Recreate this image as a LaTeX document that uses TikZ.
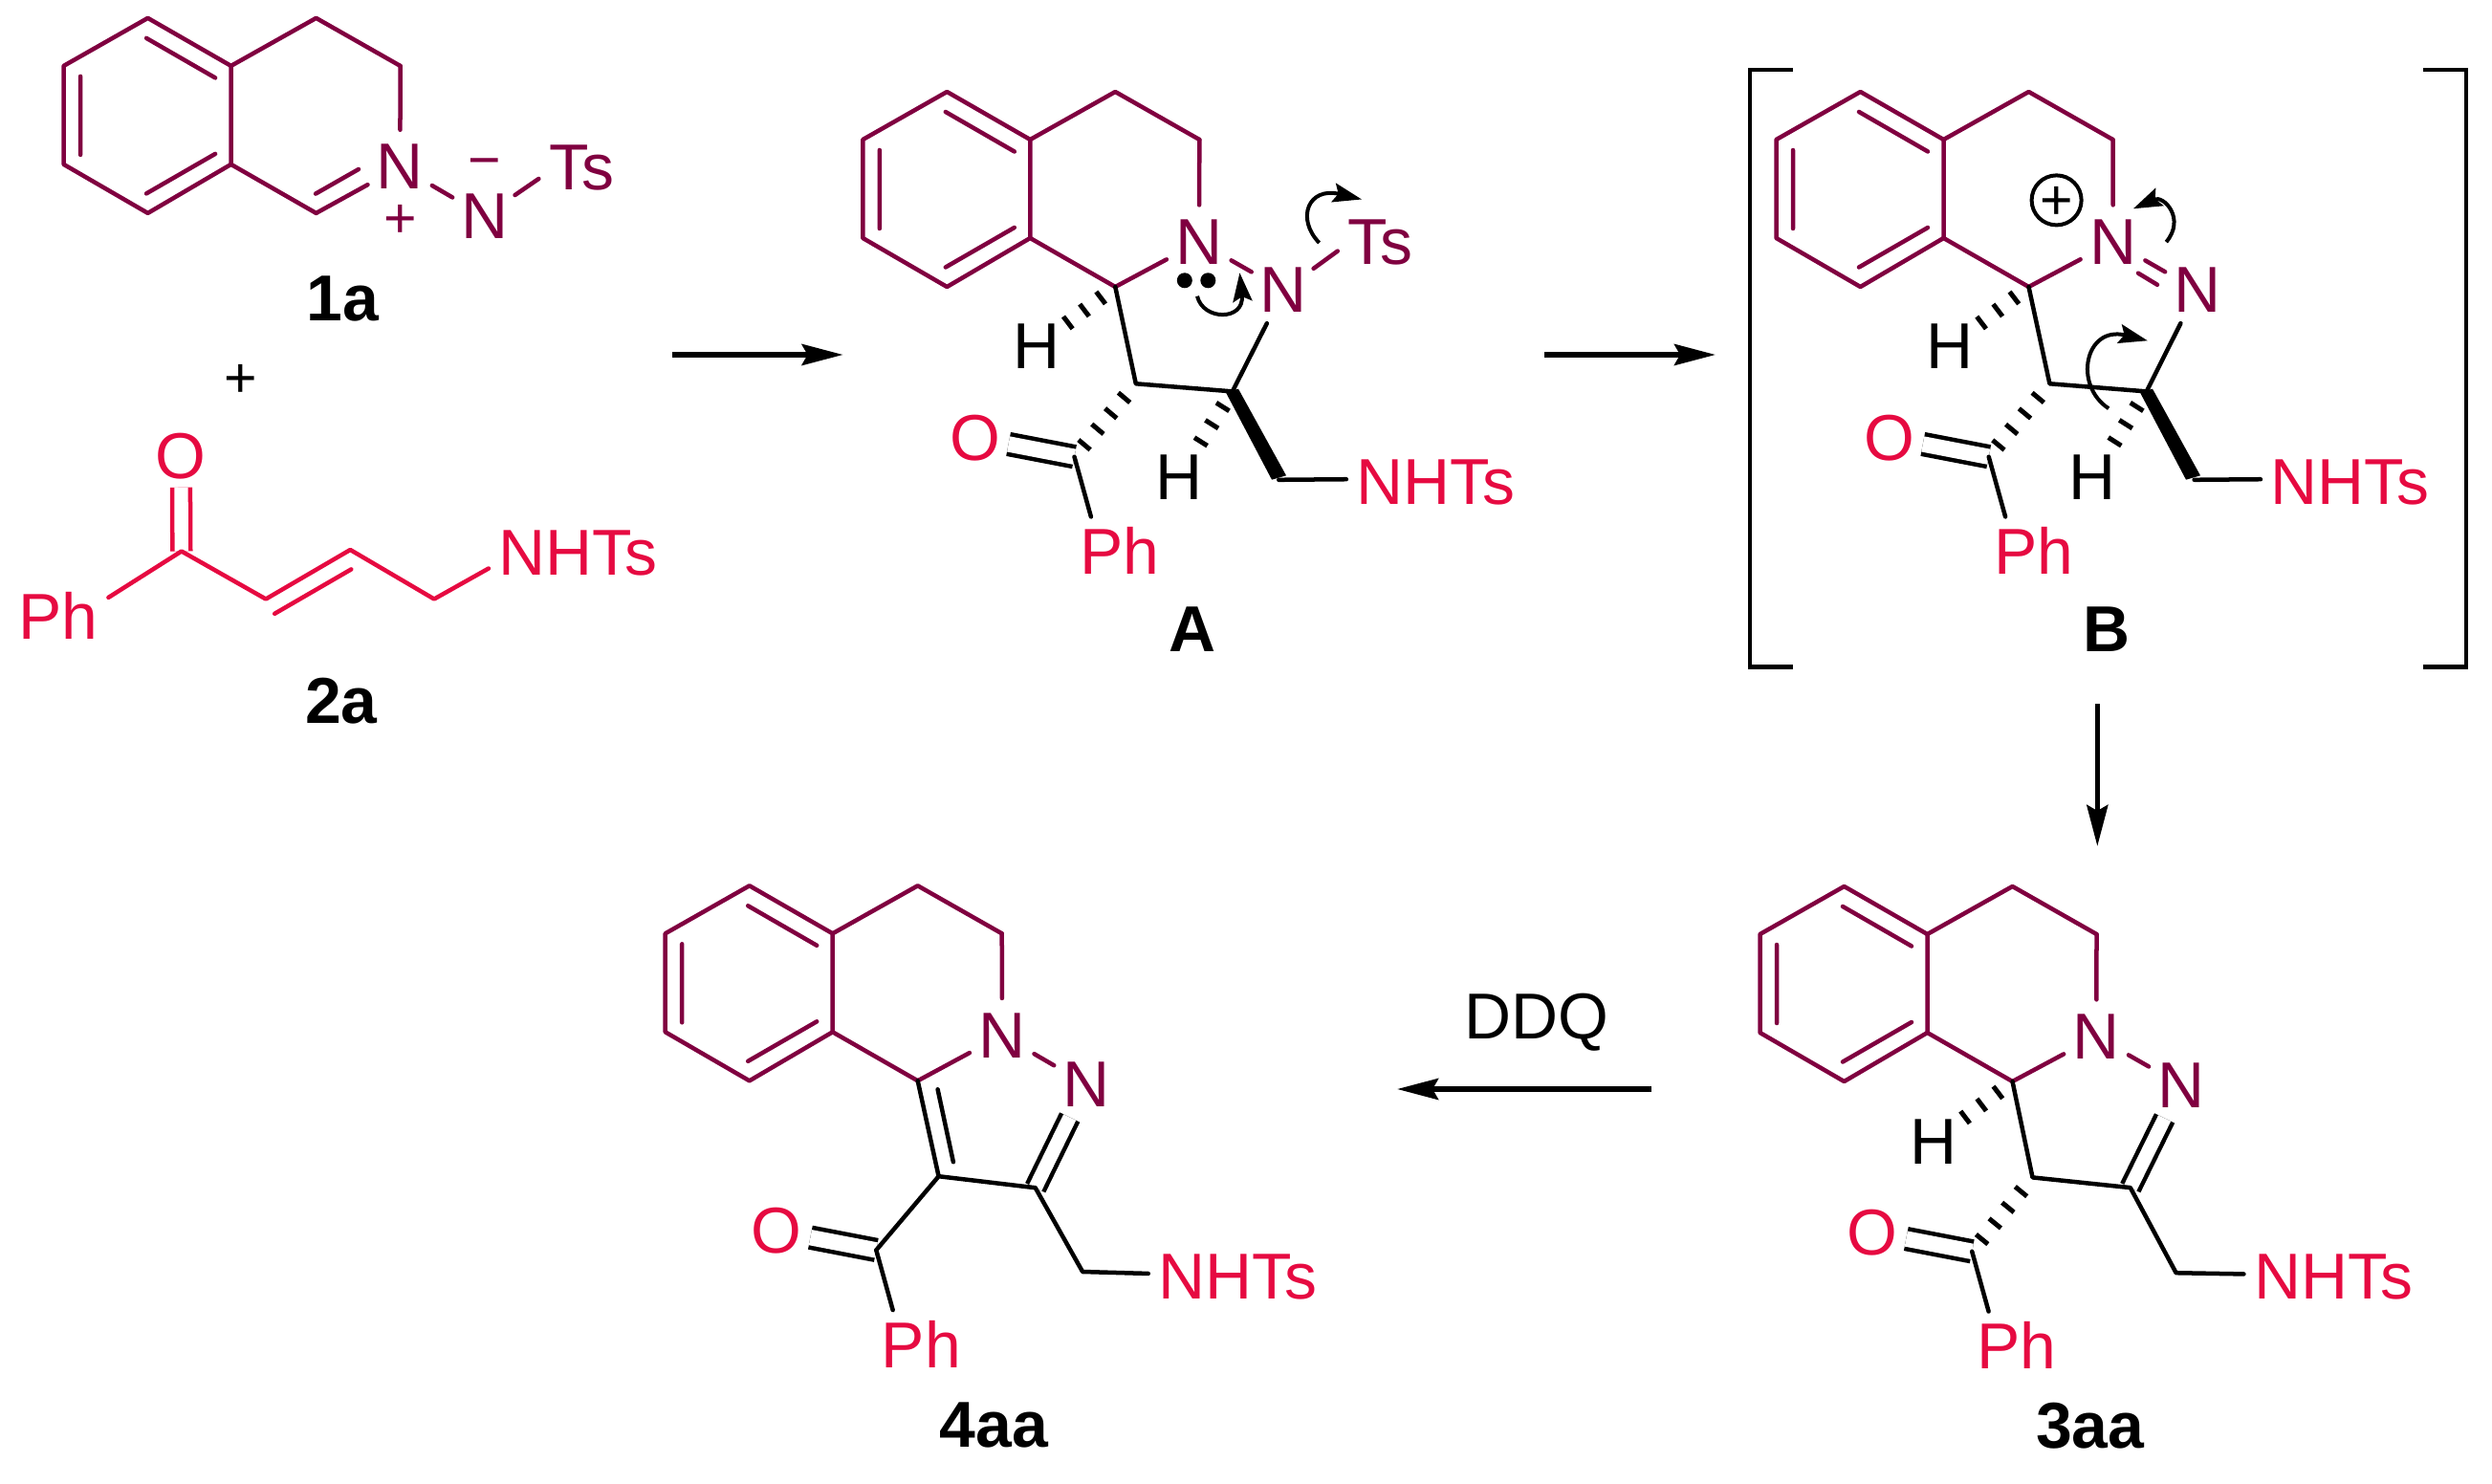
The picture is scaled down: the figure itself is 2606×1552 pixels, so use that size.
\documentclass[tikz,border=0pt]{standalone}
\usepackage{fontspec}
\setmainfont{Liberation Sans}
\usetikzlibrary{arrows.meta}

\definecolor{ringcol}{RGB}{128,0,64}
\definecolor{chaincol}{RGB}{230,10,65}

\tikzset{
    ringbond/.style={draw=ringcol, line width=0.045cm, line cap=round, line join=round},
    blackbond/.style={draw=black, line width=0.045cm, line cap=round, line join=round},
    redbond/.style={draw=chaincol, line width=0.045cm, line cap=round, line join=round},
    twoline/.style={line cap=butt, double=white, double distance=#1},
    hashbond/.style={draw=black, line width=0.16cm, dash pattern=on 0pt off 0.165cm on 0.05cm off 0pt},
    lab/.style={inner sep=0.1cm, font=\fontsize{19.3}{22}\selectfont},
    hatom/.style={lab, inner sep=0.04cm},
    natom/.style={circle, minimum size=0.76cm, inner sep=0pt, text=ringcol, font=\fontsize{19.3}{22}\selectfont},
    redlab/.style={lab, text=chaincol},
    ringlab/.style={lab, text=ringcol},
    oatom/.style={lab, inner sep=0.08cm, text=chaincol},
    name label/.style={inner sep=0pt, font=\fontsize{19.3}{22}\selectfont\bfseries},
    charge/.style={inner sep=0pt, font=\fontsize{16.8}{18}\selectfont},
    rxn/.style={-{Stealth[length=0.43cm, width=0.22cm, inset=0.06cm]}, line width=0.055cm},
    curly/.style={-{Stealth[length=0.3cm, width=0.2cm, inset=0.05cm]}, line width=0.04cm},
}

% the dihydroisoquinoline part of every molecule
\newcommand{\ringsys}[3]{
    \begin{scope}[shift={(#2,#3)}, name prefix=#1]
        \coordinate (c1) at (0,0);
        \coordinate (c2) at (87,50);
        \coordinate (c3) at (87,153);
        \coordinate (c4) at (0,204);
        \coordinate (c5) at (-88,153);
        \coordinate (c6) at (-88,50);
        \coordinate (c7) at (176,0);
        \coordinate (c8) at (264,50);
        \coordinate (c10) at (176,204);
        \coordinate (i1) at (-1.5,21);
        \coordinate (i2) at (70.5,62.5);
        \coordinate (i3) at (-70.5,61);
        \coordinate (i4) at (-70.5,143);
        \coordinate (i5) at (-1.5,183.5);
        \coordinate (i6) at (70.5,142);
        \draw[ringbond] (c6) -- (c1) -- (c2) -- (c3) -- (c4) -- (c5) -- cycle;
        \draw[ringbond] (c2) -- (c7) -- (c8)
            (c3) -- (c10)
            (i1) -- (i2)
            (i3) -- (i4)
            (i5) -- (i6);
    \end{scope}
}

% C(=O)Ph, the first argument is the name prefix
\newcommand{\benzoyl}[3]{
    \begin{scope}[shift={(#2,#3)}, name prefix=#1]
        \coordinate (Cq) at (0,0);
        \node[oatom] (O) at (-104,-20) {O};
        \node[redlab] (Ph) at (47,98) {Ph};
        \draw[blackbond, twoline=0.164cm] (O) -- (Cq);
        \draw[blackbond] (Cq) -- (Ph.130);
    \end{scope}
}

\begin{document}
\begin{tikzpicture}[x=0.01cm, y=-0.01cm]
    \useasboundingbox (0,0) rectangle (2606,1552);

    % 1a
    \ringsys{one}{154.6}{18.9}
    \node[natom] (oneN) at (418.4,174.5) {N};
    \node[natom] (oneN2) at (506.6,226) {N};
    \node[ringlab] (oneTs) at (608,175) {Ts};
    \node[charge, text=ringcol] (onePlus) at (418.4,231) {+};
    \node[charge, text=ringcol] (oneMinus) at (506.6,176.5) {−};
    \node[name label] (oneName) at (358.7,312.8) {1a};
    \coordinate (oneD1) at (330.1,202.6);
    \coordinate (oneD2) at (375,177);
    \draw[ringbond] (onec8) -- (oneN)
        (onec10) -- (oneN)
        (oneD1) -- (oneD2)
        (oneN) -- (oneN2)
        (oneN2) -- (oneTs.195);

    \node[charge] (plusSign) at (251.5,398) {+};

    % 2a
    \node[oatom] (twoO) at (189.3,477) {O};
    \node[redlab] (twoPh) at (61.2,643.9) {Ph};
    \node[redlab] (twoNHTs) at (604.6,578) {NHTs};
    \node[name label] (twoName) at (357,732.7) {2a};
    \coordinate (twoC1) at (189.8,576.5);
    \coordinate (twoC2) at (278,626.5);
    \coordinate (twoC3) at (366.3,575);
    \coordinate (twoC4) at (454,626.5);
    \coordinate (twoD1) at (287.2,641.8);
    \coordinate (twoD2) at (367.3,595.4);
    \draw[redbond, twoline=0.144cm] (twoO) -- (twoC1);
    \draw[redbond] (twoPh.20) -- (twoC1) -- (twoC2) -- (twoC3) -- (twoC4) -- (twoNHTs.190)
        (twoD1) -- (twoD2);

    % A
    \ringsys{A}{990.3}{96}
    \benzoyl{A}{1123.5}{477.7}
    \node[natom] (AN) at (1254,253.1) {N};
    \node[natom] (AN2) at (1342.3,303.6) {N};
    \node[ringlab] (ATs) at (1443.4,253.1) {Ts};
    \node[redlab] (ANHTs) at (1501.5,504.5) {NHTs};
    \node[hatom] (AH1) at (1083.7,362.5) {H};
    \node[hatom] (AH2) at (1232.7,498.7) {H};
    \node[name label] (AName) at (1247,658.5) {A};
    \coordinate (AC11) at (1187.8,401.3);
    \coordinate (AC12) at (1288.8,409.4);
    \coordinate (ACH2) at (1337.2,501.8);
    \coordinate (AW1) at (1330,501.7);
    \coordinate (AW2) at (1345,497.3);
    \coordinate (AW3) at (1295,406.7);
    \coordinate (AW4) at (1281.7,410);
    \draw[ringbond] (Ac8) -- (AN)
        (Ac10) -- (AN)
        (AN) -- (AN2)
        (AN2) -- (ATs.192);
    \draw[blackbond] (Ac10) -- (AC11) -- (AC12) -- (AN2)
        (ACH2) -- (ANHTs.178);
    \fill (AW1) -- (AW2) -- (AW3) -- (AW4) -- cycle;
    \draw[hashbond] (Ac10) -- (AH1);
    \draw[hashbond] (AC11) -- (ACq);
    \draw[hashbond] (AC12) -- (AH2);
    \node[circle, fill, inner sep=0pt, minimum size=0.16cm] (ALp1) at (1238.8,293.3) {};
    \node[circle, fill, inner sep=0pt, minimum size=0.16cm] (ALp2) at (1263.3,293.3) {};
    \coordinate (AS1) at (1379.6,254);
    \coordinate (AE1) at (1424,208.5);
    \coordinate (AS2) at (1252,309.8);
    \coordinate (AE2) at (1296.4,285.3);
    \draw[curly] (AS1) .. controls (1355.1,228.6) and (1367.9,195.1) .. (AE1);
    \draw[curly] (AS2) .. controls (1258.2,335.7) and (1301.5,335.7) .. (AE2);

    % B
    \ringsys{B}{1945.5}{96}
    \benzoyl{B}{2079.7}{477.7}
    \node[natom] (BN) at (2209.8,253.1) {N};
    \node[natom] (BN2) at (2297.7,303.6) {N};
    \node[redlab] (BNHTs) at (2457.6,504.5) {NHTs};
    \node[hatom] (BH1) at (2039.1,362.5) {H};
    \node[hatom] (BH2) at (2188.2,498.7) {H};
    \node[name label] (BName) at (2203.1,658.5) {B};
    \node[circle, draw, line width=0.04cm, minimum size=0.52cm, inner sep=0pt] (BCharge) at (2150.6,209.4) {};
    \node[charge] (BPlus) at (2150.6,212.5) {+};
    \coordinate (BC11) at (2143.4,401.3);
    \coordinate (BC12) at (2244.7,409.4);
    \coordinate (BCH2) at (2294.6,501.8);
    \coordinate (BW1) at (2286,501.7);
    \coordinate (BW2) at (2301,497.3);
    \coordinate (BW3) at (2251,406.7);
    \coordinate (BW4) at (2237.7,410);
    \coordinate (BD1) at (2236,285.7);
    \coordinate (BD2) at (2256,297.8);
    \draw[ringbond] (Bc8) -- (BN)
        (Bc10) -- (BN)
        (BN) -- (BN2)
        (BD1) -- (BD2);
    \draw[blackbond] (Bc10) -- (BC11) -- (BC12) -- (BN2)
        (BCH2) -- (BNHTs.178);
    \fill (BW1) -- (BW2) -- (BW3) -- (BW4) -- cycle;
    \draw[hashbond] (Bc10) -- (BH1);
    \draw[hashbond] (BC11) -- (BCq);
    \draw[hashbond] (BC12) -- (BH2);
    \coordinate (BS1) at (2265.3,253.1);
    \coordinate (BE1) at (2230.8,218.3);
    \coordinate (BS2) at (2205.1,427.2);
    \coordinate (BE2) at (2245.8,356.3);
    \draw[curly] (BS1) .. controls (2285.9,228.6) and (2262.7,204) .. (BE1);
    \draw[curly] (BS2) .. controls (2167.6,402.7) and (2180.5,340.2) .. (BE2);
    \draw[line width=0.045cm] (1874.6,73.2) -- (1829.8,73.2) -- (1829.8,697.3) -- (1874.6,697.3);
    \draw[line width=0.045cm] (2534.2,73.2) -- (2578.9,73.2) -- (2578.9,697.3) -- (2534.2,697.3);

    % 3aa
    \ringsys{three}{1928.5}{927}
    \benzoyl{three}{2062.2}{1308.8}
    \node[natom] (threeN) at (2192.3,1084.1) {N};
    \node[natom] (threeN2) at (2280.7,1134.7) {N};
    \node[redlab] (threeNHTs) at (2440.1,1335.7) {NHTs};
    \node[hatom] (threeH) at (2021.6,1193.8) {H};
    \node[name label] (threeName) at (2185.6,1491.4) {3aa};
    \coordinate (threeC11) at (2125.5,1231.4);
    \coordinate (threeC12) at (2227.8,1242.1);
    \coordinate (threeCH2) at (2275.6,1331.2);
    \draw[ringbond] (threec8) -- (threeN)
        (threec10) -- (threeN)
        (threeN) -- (threeN2);
    \draw[blackbond, twoline=0.145cm] (threeC12) -- (threeN2);
    \draw[blackbond] (threec10) -- (threeC11) -- (threeC12) -- (threeCH2) -- (threeNHTs.178);
    \draw[hashbond] (threec10) -- (threeH);
    \draw[hashbond] (threeC11) -- (threeCq);

    % 4aa
    \ringsys{four}{783.7}{926.3}
    \benzoyl{four}{916.3}{1307.4}
    \node[natom] (fourN) at (1048,1082.7) {N};
    \node[natom] (fourN2) at (1135.7,1133.7) {N};
    \node[redlab] (fourNHTs) at (1294.4,1335.2) {NHTs};
    \node[name label] (fourName) at (1039.3,1490.8) {4aa};
    \coordinate (fourC11) at (981.6,1230.2);
    \coordinate (fourC12) at (1082.7,1242.2);
    \coordinate (fourCH2) at (1132.1,1330);
    \coordinate (fourD1) at (980.6,1139.3);
    \coordinate (fourD2) at (996.9,1215.2);
    \draw[ringbond] (fourc8) -- (fourN)
        (fourc10) -- (fourN)
        (fourN) -- (fourN2);
    \draw[blackbond, twoline=0.145cm] (fourC12) -- (fourN2);
    \draw[blackbond] (fourc10) -- (fourC11) -- (fourC12) -- (fourCH2) -- (fourNHTs.178)
        (fourC11) -- (fourCq)
        (fourD1) -- (fourD2);

    % arrows
    \coordinate (arrA1) at (703,371);
    \coordinate (arrA2) at (881.6,371);
    \coordinate (arrB1) at (1615,371);
    \coordinate (arrB2) at (1794,371);
    \coordinate (arrC1) at (2193.3,736);
    \coordinate (arrC2) at (2193.3,885);
    \coordinate (arrD1) at (1726.7,1139);
    \coordinate (arrD2) at (1461,1139);
    \draw[rxn] (arrA1) -- (arrA2);
    \draw[rxn] (arrB1) -- (arrB2);
    \draw[rxn] (arrC1) -- (arrC2);
    \draw[rxn] (arrD1) -- (arrD2);
    \node[lab, inner sep=0pt] (ddq) at (1606.7,1069) {DDQ};
\end{tikzpicture}
\end{document}
